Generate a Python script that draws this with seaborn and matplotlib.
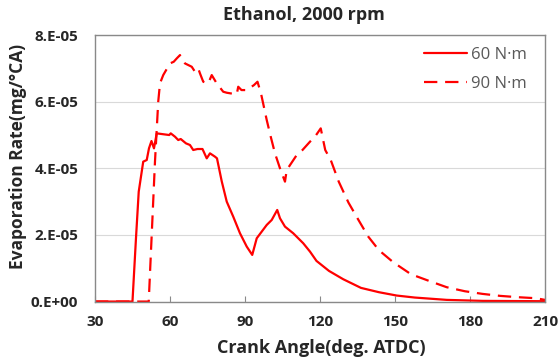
import matplotlib
matplotlib.use("Agg")
import matplotlib.pyplot as plt
import seaborn as sns
import pandas as pd
import numpy as np

# 60 N·m (solid), rate in 1e-5 mg/°CA
angle_60 = [30, 45.0, 46.4, 47.5, 49.3, 50.7, 51.6, 52.6, 53.6, 54.7, 59.7, 60.3, 62, 63.3,
            64.3, 66.4, 68, 69.3, 71, 73, 74.7, 76, 78, 78.8, 80.7, 82.7, 85.3, 88, 90.7,
            92.9, 94.7, 98.7, 100.7, 102.9, 104, 106, 109.3, 113.3, 116, 118.6, 123.6, 129.3,
            136.4, 143.6, 150.7, 157.9, 170.7, 185, 210]
rate_60 = [0, 0, 1.9, 3.3, 4.2, 4.25, 4.6, 4.82, 4.6, 5.05, 5.0, 5.05, 4.95, 4.85,
           4.88, 4.75, 4.7, 4.55, 4.58, 4.58, 4.3, 4.45, 4.35, 4.3, 3.61, 3.0, 2.55, 2.05, 1.65,
           1.4, 1.9, 2.3, 2.45, 2.75, 2.5, 2.25, 2.05, 1.75, 1.5, 1.22, 0.92, 0.67,
           0.41, 0.28, 0.18, 0.12, 0.05, 0.02, 0.01]

# 90 N·m (dashed), rate in 1e-5 mg/°CA
angle_90 = [30, 51.5, 54, 55.3, 56, 57.3, 60, 61.5, 62.7, 64, 66, 68.7, 70, 71.3, 72,
            73.3, 75.3, 76.7, 78.7, 81.3, 82.7, 86.7, 87.3, 88.6, 90.7, 93.6, 95, 96.4,
            98.7, 100.3, 102, 104, 106, 106.7, 110.7, 113, 116, 118, 120.3, 122.1, 124.3,
            127.5, 131.4, 135, 139.3, 143.6, 149.3, 156.4, 163.6, 170.7, 177.9, 185, 192.1,
            199.3, 206.4, 210]
rate_90 = [0, 0, 4.2, 6.0, 6.55, 6.8, 7.15, 7.2, 7.3, 7.4, 7.15, 7.05, 6.9, 7.0, 6.85,
           6.6, 6.55, 6.8, 6.55, 6.3, 6.27, 6.22, 6.45, 6.35, 6.35, 6.5, 6.6, 6.25,
           5.45, 4.95, 4.45, 4.0, 3.6, 3.95, 4.4, 4.55, 4.8, 4.95, 5.2, 4.55, 4.25,
           3.6, 2.97, 2.5, 1.95, 1.54, 1.18, 0.82, 0.62, 0.43, 0.31, 0.23, 0.17,
           0.13, 0.1, 0.05]

series_labels = ["60 N·m", "90 N·m"]
x_ticks = [30, 60, 90, 120, 150, 180, 210]
y_ticks = [0, 2e-5, 4e-5, 6e-5, 8e-5]
y_tick_labels = ["0.E+00", "2.E-05", "4.E-05", "6.E-05", "8.E-05"]

df = pd.concat([
    pd.DataFrame({"angle": angle_60, "rate": np.array(rate_60) * 1e-5, "load": series_labels[0]}),
    pd.DataFrame({"angle": angle_90, "rate": np.array(rate_90) * 1e-5, "load": series_labels[1]}),
], ignore_index=True)

sns.set_style("white")
plt.rcParams["font.family"] = ["Open Sans", "DejaVu Sans"]

TXT = "#262626"
fig = plt.figure(figsize=(5.6, 3.62), dpi=100)
ax = fig.add_axes([0.1696, 0.167, 0.8036, 0.736])

sns.lineplot(data=df, x="angle", y="rate", style="load", hue="load",
             palette={series_labels[0]: "#ff0000", series_labels[1]: "#ff0000"},
             dashes={series_labels[0]: "", series_labels[1]: (6, 3.5)},
             sort=False, estimator=None, linewidth=1.6, ax=ax)

ax.set_xlim(30, 210)
ax.set_ylim(0, 8e-5)
ax.set_xticks(x_ticks)
ax.set_xticklabels([str(t) for t in x_ticks])
ax.set_yticks(y_ticks)
ax.set_yticklabels(y_tick_labels)
for lab in ax.get_xticklabels() + ax.get_yticklabels():
    lab.set_fontweight("bold")
    lab.set_fontsize(11)
    lab.set_color(TXT)
ax.tick_params(axis="x", direction="in", length=4, color="#898989", bottom=True, pad=10)
ax.tick_params(axis="y", length=0, pad=12)
ax.yaxis.grid(True, color="#d9d9d9", linewidth=0.8)
ax.set_axisbelow(True)
for s in ax.spines.values():
    s.set_color("#898989")
    s.set_linewidth(1.0)

ax.set_xlabel("")
ax.set_ylabel("")
fig.text(0.573, 0.039, "Crank Angle(deg. ATDC)", fontsize=13, fontweight="bold",
         color=TXT, ha="center", va="center")
fig.text(0.032, 0.567, "Evaporation Rate(mg/°CA)", fontsize=12.5, fontweight="bold",
         color=TXT, ha="center", va="center", rotation=90)
fig.text(0.543, 0.959, "Ethanol, 2000 rpm", fontsize=13, fontweight="bold",
         color=TXT, ha="center", va="center")

leg = ax.legend(loc="upper right", frameon=False, fontsize=12, handlelength=2.6,
                handletextpad=0.2, labelspacing=0.8, borderaxespad=0.3,
                bbox_to_anchor=(0.985, 1.0))
for t in leg.get_texts():
    t.set_color("#595959")

fig.savefig("out.png", dpi=100)
